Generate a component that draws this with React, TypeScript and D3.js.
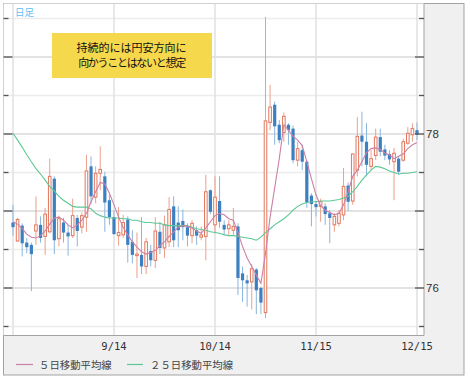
import React from "react";
import * as d3 from "d3";

const opens = [
  76.85, 76.61, 76.81, 76.59, 76.56, 76.74, 76.82, 76.67, 76.73, 77.42,
  76.64, 76.85, 76.72, 76.68, 76.91, 76.79, 76.92, 77.58, 77.18, 77.49,
  77.45, 77.14, 76.92, 76.68, 76.69, 76.89, 76.6, 76.42, 76.43, 76.28,
  76.48, 76.36, 76.73, 76.52, 76.6, 77.06, 76.85, 76.87, 76.79, 76.68,
  76.75, 76.66, 76.67, 77.27, 76.82, 77.13, 76.82, 76.77, 76.75, 76.8,
  76.19, 76.1, 76.08, 76.24, 76.0, 75.68, 78.15, 78.38, 78.12, 78.02,
  78.12, 78.07, 77.66, 77.79, 77.64, 77.2, 77.09, 77.06, 77.06, 76.97,
  76.82, 76.84, 76.95, 77.33, 77.13, 77.53, 77.98, 77.9, 77.58, 77.72,
  77.96, 77.8, 77.74, 77.64, 77.68, 77.66, 77.88, 77.99, 78.05,
];
const highs = [
  77.08, 76.91, 76.84, 76.65, 76.59, 77.19, 76.93, 77.04, 77.68, 77.45,
  76.94, 76.91, 76.82, 77.16, 76.95, 76.98, 77.73, 77.71, 77.58, 77.84,
  77.51, 77.21, 77.01, 77.05, 76.95, 76.93, 76.75, 76.72, 76.92, 76.65,
  76.56, 76.92, 76.86, 76.94, 77.18, 77.19, 77.06, 77.02, 76.84, 76.88,
  76.8, 76.8, 77.47, 77.28, 77.45, 77.45, 76.88, 76.88, 77.04, 76.84,
  76.28, 76.17, 76.31, 76.26, 76.02, 79.52, 78.64, 78.42, 78.18, 78.28,
  78.14, 78.11, 77.9, 77.86, 77.66, 77.23, 77.13, 77.16, 77.1, 77.01,
  76.97, 77.01, 77.56, 77.37, 77.75, 78.22, 78.29, 78.14, 77.79, 78.07,
  78.07, 77.86, 77.79, 77.82, 77.71, 77.94, 78.09, 78.14, 78.15,
];
const lows = [
  76.68, 76.6, 76.41, 76.45, 75.96, 76.56, 76.59, 76.43, 76.71, 76.44,
  76.54, 76.59, 76.42, 76.65, 76.54, 76.71, 76.73, 77.09, 77.1, 77.27,
  76.73, 76.82, 76.69, 76.55, 76.65, 76.33, 76.32, 76.13, 76.18, 76.18,
  76.28, 76.26, 76.44, 76.39, 76.53, 76.53, 76.53, 76.62, 76.54, 76.58,
  76.56, 76.62, 76.36, 76.96, 76.71, 76.78, 76.69, 76.69, 76.69, 75.91,
  75.82, 75.76, 75.72, 75.66, 75.66, 75.61, 78.05, 77.86, 77.88, 77.9,
  77.86, 77.62, 77.58, 77.53, 77.04, 76.8, 76.93, 76.86, 76.82, 76.58,
  76.73, 76.8, 76.88, 77.0, 77.08, 77.45, 77.58, 77.45, 77.53, 77.66,
  77.71, 77.66, 77.6, 77.14, 77.47, 77.64, 77.86, 77.9, 77.92,
];
const closes = [
  76.79, 76.89, 76.58, 76.53, 76.44, 76.82, 76.65, 76.96, 77.45, 76.62,
  76.9, 76.72, 76.67, 76.94, 76.74, 76.94, 77.52, 77.19, 77.49, 77.54,
  77.11, 76.92, 76.7, 76.72, 76.85, 76.56, 76.43, 76.44, 76.28, 76.6,
  76.36, 76.74, 76.52, 76.82, 77.02, 76.62, 76.75, 76.79, 76.68, 76.84,
  76.68, 76.69, 77.25, 76.99, 77.18, 76.86, 76.76, 76.82, 76.8, 76.13,
  76.1, 76.06, 76.25, 75.97, 75.81, 78.17, 78.35, 78.1, 77.92, 78.23,
  78.05, 77.66, 77.81, 77.64, 77.11, 77.09, 77.05, 77.12, 76.96, 76.91,
  76.93, 76.97, 77.32, 77.12, 77.74, 77.97, 77.9, 77.6, 77.68, 77.96,
  77.77, 77.72, 77.67, 77.75, 77.51, 77.9, 78.01, 78.07, 77.99,
];
const ma5 = [
  76.86, 76.83, 76.77, 76.7, 76.66, 76.65, 76.68, 76.74, 76.83, 76.91,
  76.92, 76.88, 76.82, 76.78, 76.82, 76.88, 76.97, 77.12, 77.25, 77.37,
  77.35, 77.23, 77.08, 76.92, 76.79, 76.69, 76.6, 76.53, 76.47, 76.44,
  76.46, 76.49, 76.55, 76.6, 76.67, 76.73, 76.79, 76.81, 76.8, 76.78,
  76.74, 76.71, 76.78, 76.86, 76.94, 76.97, 76.95, 76.9, 76.88, 76.72,
  76.54, 76.39, 76.28, 76.17, 76.06, 76.45, 76.92, 77.3, 77.68, 78.12,
  78.05, 77.97, 77.92, 77.85, 77.64, 77.42, 77.21, 77.07, 77.01, 76.98,
  76.95, 76.97, 77.08, 77.25, 77.45, 77.53, 77.64, 77.76, 77.81, 77.82,
  77.8, 77.75, 77.73, 77.68, 77.71, 77.74, 77.81, 77.86, 77.89,
];
const ma25 = [
  78.01, 77.92, 77.83, 77.73, 77.64, 77.55, 77.48, 77.4, 77.32, 77.26,
  77.19, 77.14, 77.1, 77.06, 77.05, 77.05, 77.05, 77.03, 76.97, 76.94,
  76.92, 76.91, 76.91, 76.91, 76.9, 76.9, 76.88, 76.88, 76.86, 76.85,
  76.85, 76.84, 76.84, 76.82, 76.81, 76.81, 76.81, 76.81, 76.81, 76.79,
  76.77, 76.76, 76.75, 76.73, 76.72, 76.71, 76.69, 76.68, 76.68, 76.67,
  76.66, 76.65, 76.64, 76.62, 76.66, 76.72, 76.77, 76.82, 76.86, 76.9,
  76.95, 77.01, 77.06, 77.09, 77.11, 77.12, 77.12, 77.13, 77.13, 77.13,
  77.14, 77.15, 77.17, 77.19, 77.25, 77.32, 77.4, 77.47, 77.53, 77.58,
  77.57, 77.55, 77.52, 77.5, 77.48, 77.49, 77.49, 77.5, 77.51,
];
const xTickIndex = [0, 22, 44, 66, 88];
const xTickLabels = ["", "9/14", "10/14", "11/15", "12/15"];
const yTicks = [75.5, 76, 76.5, 77, 77.5, 78, 78.5, 79, 79.5];
const yLabels = [76, 78];
const legendLabels = ["５日移動平均線", "２５日移動平均線"];
const noteLines = ["持続的には円安方向に", "向かうことはないと想定"];
const periodLabel = "日足";

const W = 470;
const H = 379;
const PL = 3.5, PT = 3.5, PR = 424, PB = 335.5;
const UP = "#e2775d";
const UP_WICK = "#eca08c";
const DN = "#3c80c1";
const DN_WICK = "#8ab5dd";
const MA5C = "#cc80a6";
const MA25C = "#5cc894";
const CJK = "'Noto Sans CJK JP', sans-serif";

export default function App() {
  const x = d3.scaleLinear().domain([0, 88]).range([13, 417]);
  const y = d3.scaleLinear().domain([76, 78]).range([288, 134]);
  const idx = closes.map((_, i) => i);
  const lineGen = (vals: number[]) =>
    d3.line<number>().x((_, i) => x(i)).y((v) => y(v))(vals) || "";

  return (
    <svg width={W} height={H} style={{ position: "absolute", left: 0, top: 0 }}>
      <defs>
        <clipPath id="plot">
          <rect x={PL} y={PT} width={PR - PL} height={PB - PT} />
        </clipPath>
      </defs>
      <rect x={3.5} y={3.5} width={460.5} height={371.5} fill="#f0f0f0" stroke="#a3a3a3" />
      <rect x={PL} y={PT} width={PR - PL} height={PB - PT} fill="#fff" />
      {yTicks.map((t) => (
        <line key={"g" + t} x1={PL} x2={PR} y1={y(t)} y2={y(t)}
          stroke={Number.isInteger(t) ? "#dadada" : "#ececec"} strokeWidth={1.5} />
      ))}
      {xTickIndex.map((t) => (
        <line key={"v" + t} x1={x(t)} x2={x(t)} y1={PT} y2={PB}
          stroke="#e0e0e0" strokeWidth={1.5} />
      ))}
      <g clipPath="url(#plot)">
        {idx.map((i) => {
          const up = closes[i] >= opens[i];
          const cx = x(i);
          const top = y(Math.max(opens[i], closes[i]));
          const bot = y(Math.min(opens[i], closes[i]));
          const h = Math.max(1, bot - top);
          return (
            <g key={i}>
              <line x1={cx} x2={cx} y1={y(highs[i])} y2={y(lows[i])}
                stroke={up ? UP_WICK : DN_WICK} strokeWidth={1} />
              {up ? (
                <rect x={cx - 1.3} y={top} width={2.6} height={h}
                  fill="#fff" stroke={UP} strokeWidth={1} />
              ) : (
                <rect x={cx - 1.6} y={top} width={3.2} height={h} fill={DN} />
              )}
            </g>
          );
        })}
        <path d={lineGen(ma25)} fill="none" stroke={MA25C} strokeWidth={1.1} />
        <path d={lineGen(ma5)} fill="none" stroke={MA5C} strokeWidth={1.1} />
      </g>
      <line x1={PL} x2={PR} y1={PB} y2={PB} stroke="#a3a3a3" />
      <line x1={PR} x2={PR} y1={PT} y2={PB} stroke="#a3a3a3" />
      {yTicks.map((t) => {
        const len = Number.isInteger(t) ? 9 : 5;
        return (
          <g key={"t" + t}>
            <line x1={PL} x2={PL + len} y1={y(t)} y2={y(t)} stroke="#555" strokeWidth={1.3} />
            <line x1={PR - len} x2={PR} y1={y(t)} y2={y(t)} stroke="#555" strokeWidth={1.3} />
          </g>
        );
      })}
      {yLabels.map((t) => (
        <text key={"yl" + t} x={426} y={y(t) + 4} fontSize={11.5}
          fontFamily="'Liberation Sans', Arial, sans-serif" fill="#333">{t}</text>
      ))}
      {xTickIndex.map((t, k) => (
        <text key={"xl" + t} x={x(t)} y={350} textAnchor="middle" fontSize={10.5}
          fontFamily="'DejaVu Sans Mono', monospace" fill="#333">{xTickLabels[k]}</text>
      ))}
      <text x={15} y={15.5} fontSize={9.5} fontFamily={CJK} fill="#5cbfee">{periodLabel}</text>
      <rect x={52} y={33} width={160} height={45} fill="#f6d84c" />
      <text x={131.5} y={52} textAnchor="middle" fontSize={11} fontFamily={CJK} fill="#111">{noteLines[0]}</text>
      <text x={131.5} y={67} textAnchor="middle" fontSize={11} letterSpacing={-1.3}
        fontFamily={CJK} fill="#111">{noteLines[1]}</text>
      <line x1={16} x2={33} y1={364.5} y2={364.5} stroke={MA5C} strokeWidth={1.2} />
      <text x={39} y={368.5} fontSize={10.4} fontFamily={CJK} fill="#444">{legendLabels[0]}</text>
      <line x1={127} x2={143} y1={364.5} y2={364.5} stroke={MA25C} strokeWidth={1.2} />
      <text x={150} y={368.5} fontSize={10.4} fontFamily={CJK} fill="#444">{legendLabels[1]}</text>
    </svg>
  );
}
